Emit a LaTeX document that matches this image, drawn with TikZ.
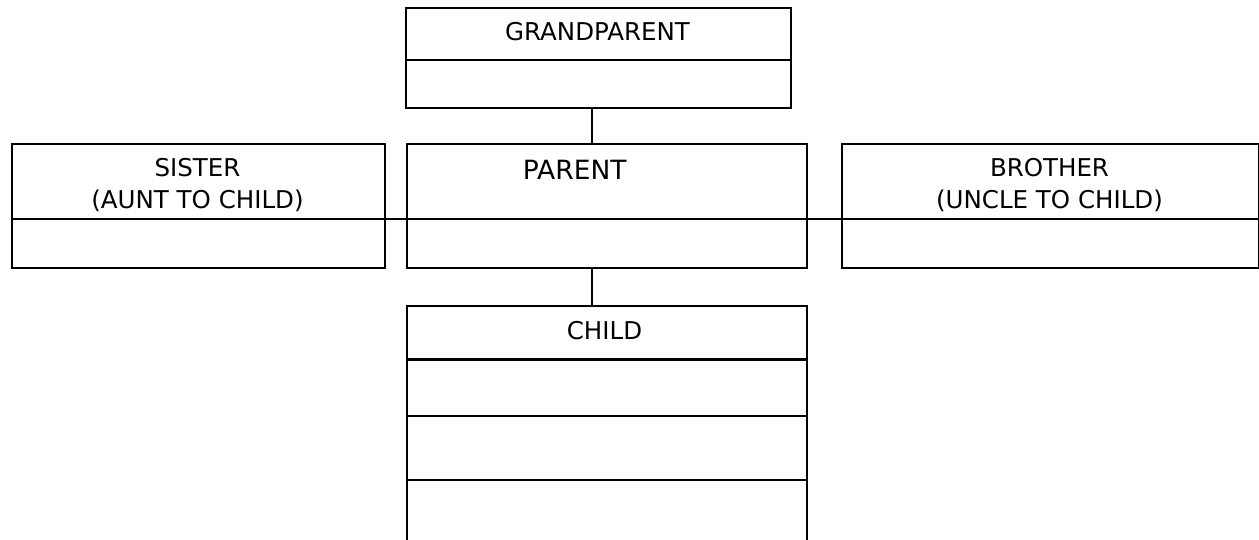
\documentclass[tikz,border=0pt]{standalone}
\usepackage{fontspec}
\setmainfont{DejaVu Sans}
\usetikzlibrary{calc}
\begin{document}
\begin{tikzpicture}[x=1pt,y=-1pt,
  box/.style={draw=black, line width=2pt, inner sep=0pt, anchor=north west},
  lbl/.style={font=\fontsize{24.5}{31.5}\selectfont, align=center, inner sep=0pt, anchor=base},
  big/.style={font=\fontsize{26.5}{32}\selectfont, inner sep=0pt, anchor=base},
  rule/.style={draw=black, line width=2pt},
  thickrule/.style={draw=black, line width=3pt},
  link/.style={draw=black, line width=2pt}]
\useasboundingbox (0,0) rectangle (1259,539);
\clip (0,0) rectangle (1259,539);

% reference levels
\coordinate (stem) at (592,0);
\coordinate (gpdiv) at (0,60);
\coordinate (rowdiv) at (0,219);
\coordinate (chdivA) at (0,359.5);
\coordinate (chdivB) at (0,416);
\coordinate (chdivC) at (0,480);

% class boxes
\node[box, minimum width=385pt, minimum height=100pt] (gp) at (405,7) {};
\node[box, minimum width=373pt, minimum height=124pt] (sis) at (11,143) {};
\node[box, minimum width=400pt, minimum height=124pt] (par) at (406,143) {};
\node[box, minimum width=417pt, minimum height=124pt] (bro) at (841,143) {};
\node[box, minimum width=400pt, minimum height=260pt] (ch) at (406,305) {};

% compartment dividers
\draw[rule] (gp.west |- gpdiv) -- (gp.east |- gpdiv);
\draw[rule] (sis.west |- rowdiv) -- (sis.east |- rowdiv);
\draw[rule] (par.west |- rowdiv) -- (par.east |- rowdiv);
\draw[rule] (bro.west |- rowdiv) -- (bro.east |- rowdiv);
\draw[thickrule] (ch.west |- chdivA) -- (ch.east |- chdivA);
\draw[rule] (ch.west |- chdivB) -- (ch.east |- chdivB);
\draw[rule] (ch.west |- chdivC) -- (ch.east |- chdivC);

% names (two-line labels are anchored on their last baseline)
\node[lbl] (gpname) at (597.5,40.7) {GRANDPARENT};
\node[lbl] (sisname) at (197.5,208.3) {SISTER\\(AUNT TO CHILD)};
\node[big] (parname) at (574.7,179.3) {PARENT};
\node[lbl] (broname) at (1049.5,208.3) {BROTHER\\(UNCLE TO CHILD)};
\node[lbl] (chname) at (604.5,339.3) {CHILD};

% connectors
\draw[link] (gp.south -| stem) -- (par.north -| stem);
\draw[link] (par.south -| stem) -- (ch.north -| stem);
\draw[link] (sis.east |- rowdiv) -- (par.west |- rowdiv);
\draw[link] (par.east |- rowdiv) -- (bro.west |- rowdiv);
\end{tikzpicture}
\end{document}
